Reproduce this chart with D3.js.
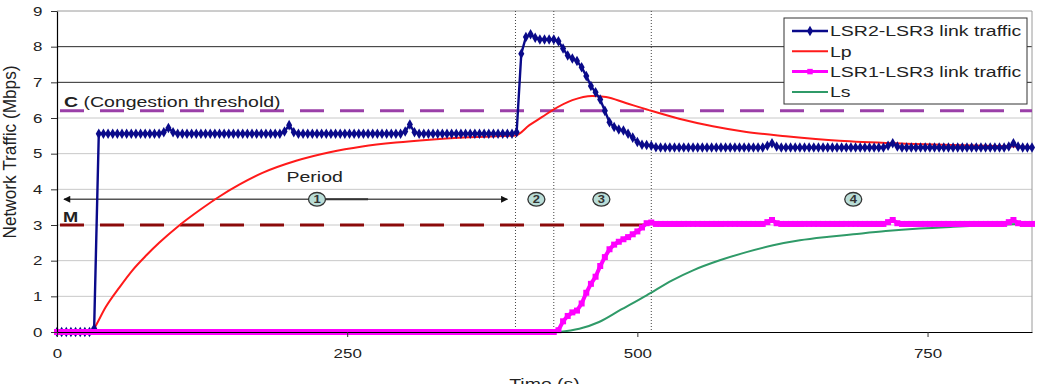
<!DOCTYPE html>
<html>

<head>
  <meta charset="utf-8">
  <title>Network traffic</title>
  <script src="https://cdn.jsdelivr.net/npm/d3@7"></script>
  <style>
    body { margin: 0; background: #fff; }
    text { font-family: Arial, "Liberation Sans", sans-serif; }
  </style>
</head>

<body>
  <svg width="1044" height="384" id="mainsvg" style="display: block;"></svg>
  <script>
    // sampled every 4 s, 0 .. 840 s
    const time = d3.range(0, 841, 4);

    const lsr23 = [
      0, 0, 0, 0, 0, 0, 0, 0, 0.1, 5.56,
      5.56, 5.56, 5.56, 5.56, 5.56, 5.56, 5.56, 5.56, 5.56, 5.56,
      5.56, 5.56, 5.56, 5.6, 5.72, 5.6, 5.56, 5.56, 5.56, 5.56,
      5.56, 5.56, 5.56, 5.56, 5.56, 5.56, 5.56, 5.56, 5.56, 5.56,
      5.56, 5.56, 5.56, 5.56, 5.56, 5.56, 5.56, 5.56, 5.56, 5.62,
      5.8, 5.6, 5.56, 5.56, 5.56, 5.56, 5.56, 5.56, 5.56, 5.56,
      5.56, 5.56, 5.56, 5.56, 5.56, 5.56, 5.56, 5.56, 5.56, 5.56,
      5.56, 5.56, 5.56, 5.56, 5.56, 5.62, 5.82, 5.6, 5.56, 5.56,
      5.56, 5.56, 5.56, 5.56, 5.56, 5.56, 5.56, 5.56, 5.56, 5.56,
      5.56, 5.56, 5.56, 5.56, 5.56, 5.56, 5.56, 5.56, 5.56, 5.6,
      7.8, 8.27, 8.35, 8.25, 8.2, 8.2, 8.2, 8.2, 8.15, 7.95,
      7.75, 7.67, 7.6, 7.42, 7.18, 6.9, 6.72, 6.52, 6.2, 5.88,
      5.75, 5.68, 5.65, 5.56, 5.45, 5.33, 5.25, 5.24, 5.22, 5.18,
      5.17, 5.17, 5.17, 5.17, 5.17, 5.17, 5.17, 5.17, 5.17, 5.17,
      5.17, 5.17, 5.17, 5.17, 5.17, 5.17, 5.17, 5.17, 5.17, 5.17,
      5.17, 5.17, 5.17, 5.22, 5.29, 5.2, 5.17, 5.17, 5.17, 5.17,
      5.17, 5.17, 5.17, 5.17, 5.17, 5.17, 5.17, 5.17, 5.17, 5.17,
      5.17, 5.17, 5.17, 5.17, 5.17, 5.17, 5.17, 5.17, 5.17, 5.22,
      5.29, 5.2, 5.17, 5.17, 5.17, 5.17, 5.17, 5.17, 5.17, 5.17,
      5.17, 5.17, 5.17, 5.17, 5.17, 5.17, 5.17, 5.17, 5.17, 5.17,
      5.17, 5.17, 5.17, 5.17, 5.17, 5.2, 5.29, 5.2, 5.17, 5.17,
      5.17
    ];

    const lsr13 = [
      0, 0, 0, 0, 0, 0, 0, 0, 0, 0,
      0, 0, 0, 0, 0, 0, 0, 0, 0, 0,
      0, 0, 0, 0, 0, 0, 0, 0, 0, 0,
      0, 0, 0, 0, 0, 0, 0, 0, 0, 0,
      0, 0, 0, 0, 0, 0, 0, 0, 0, 0,
      0, 0, 0, 0, 0, 0, 0, 0, 0, 0,
      0, 0, 0, 0, 0, 0, 0, 0, 0, 0,
      0, 0, 0, 0, 0, 0, 0, 0, 0, 0,
      0, 0, 0, 0, 0, 0, 0, 0, 0, 0,
      0, 0, 0, 0, 0, 0, 0, 0, 0, 0,
      0, 0, 0, 0, 0, 0, 0, 0, 0.05, 0.3,
      0.45, 0.55, 0.6, 0.8, 1.1, 1.35, 1.55, 1.85, 2.1, 2.32,
      2.45, 2.53, 2.6, 2.66, 2.74, 2.82, 2.93, 3.05, 3.07, 3.03,
      3.03, 3.03, 3.03, 3.03, 3.03, 3.03, 3.03, 3.03, 3.03, 3.03,
      3.03, 3.03, 3.03, 3.03, 3.03, 3.03, 3.03, 3.03, 3.03, 3.03,
      3.03, 3.03, 3.03, 3.08, 3.14, 3.05, 3.03, 3.03, 3.03, 3.03,
      3.03, 3.03, 3.03, 3.03, 3.03, 3.03, 3.03, 3.03, 3.03, 3.03,
      3.03, 3.03, 3.03, 3.03, 3.03, 3.03, 3.03, 3.03, 3.03, 3.08,
      3.14, 3.05, 3.03, 3.03, 3.03, 3.03, 3.03, 3.03, 3.03, 3.03,
      3.03, 3.03, 3.03, 3.03, 3.03, 3.03, 3.03, 3.03, 3.03, 3.03,
      3.03, 3.03, 3.03, 3.03, 3.03, 3.08, 3.14, 3.05, 3.03, 3.03,
      3.03
    ];

    const lpTime = [0, 30, 32, 42, 54, 65, 77, 88, 105, 123, 140, 157, 177, 206, 235, 263, 292, 321, 350, 378,
      395, 407, 418, 427, 444, 461, 473, 490, 510, 536, 565, 594, 628, 674, 731, 789, 840];
    const lpValue = [0, 0, 0.1, 0.7, 1.26, 1.73, 2.15, 2.5, 2.98, 3.42, 3.8, 4.13, 4.46, 4.8, 5.04, 5.2, 5.31, 5.39, 5.45, 5.49,
      5.51, 5.8, 6.03, 6.22, 6.5, 6.62, 6.59, 6.42, 6.22, 5.98, 5.77, 5.61, 5.49, 5.36, 5.28, 5.23, 5.19];

    const lsTime = [432, 450, 467, 485, 508, 530, 548, 571, 594, 617, 640, 665, 686, 714, 743, 772, 800, 830];
    const lsValue = [0, 0.09, 0.28, 0.61, 1.03, 1.45, 1.73, 2.01, 2.24, 2.43, 2.57, 2.67, 2.74, 2.83, 2.9, 2.95, 2.99, 3.03];

    const seriesNames = ['LSR2-LSR3 link traffic', 'Lp', 'LSR1-LSR3 link traffic', 'Ls'];
    const xTicks = [0, 250, 500, 750];
    const yTicks = [0, 1, 2, 3, 4, 5, 6, 7, 8, 9];
    const periodBounds = [395, 428, 512];
    const periodLabels = ['1', '2', '3', '4'];
    const congestion = 6.2;
    const minLevel = 3;

    const svg = d3.select('#mainsvg');
    const width = +svg.attr('width');
    const height = +svg.attr('height');
    const margin = { top: 11, right: 12, bottom: 52, left: 57 };
    const innerWidth = width - margin.left - margin.right;
    const innerHeight = height - margin.top - margin.bottom;
    const SX = 1.3; // the picture is stretched sideways, so is its text

    const g = svg.append('g')
      .attr('transform', `translate(${margin.left}, ${margin.top})`);

    const x = d3.scaleLinear().domain([0, 840]).range([0, innerWidth]);
    const y = d3.scaleLinear().domain([0, 9]).range([innerHeight, 0]);

    // grid
    g.selectAll('.grid').data(yTicks.filter(d => d > 0)).join('line')
      .attr('x1', 0).attr('x2', innerWidth)
      .attr('y1', d => y(d)).attr('y2', d => y(d))
      .attr('stroke', d => (d === 7 || d === 8) ? '#2a2a2a' : (d === 9 ? '#9a9a9a' : '#c8c8c8'))
      .attr('stroke-width', 1);
    g.append('line')
      .attr('x1', innerWidth).attr('x2', innerWidth)
      .attr('y1', 0).attr('y2', innerHeight)
      .attr('stroke', '#9a9a9a');

    // period boundaries
    g.selectAll('.bound').data(periodBounds).join('line')
      .attr('x1', d => x(d)).attr('x2', d => x(d))
      .attr('y1', 0).attr('y2', innerHeight)
      .attr('stroke', '#444')
      .attr('stroke-width', 1)
      .attr('stroke-dasharray', '1,2');

    // C and M thresholds
    g.append('line')
      .attr('x1', 0).attr('x2', innerWidth)
      .attr('y1', y(congestion)).attr('y2', y(congestion))
      .attr('stroke', '#9a3fa8').attr('stroke-width', 3)
      .attr('stroke-dasharray', '24,16').attr('stroke-dashoffset', -3);
    g.append('line')
      .attr('x1', 0).attr('x2', innerWidth)
      .attr('y1', y(minLevel)).attr('y2', y(minLevel))
      .attr('stroke', '#8b0a0a').attr('stroke-width', 3)
      .attr('stroke-dasharray', '24,16').attr('stroke-dashoffset', -3);

    const cLabel = g.append('text')
      .attr('transform', `translate(7, ${y(congestion) - 4}) scale(${SX},1)`)
      .attr('font-size', 15).attr('fill', '#222');
    cLabel.append('tspan').attr('font-weight', 'bold').text('C');
    cLabel.append('tspan').text(' (Congestion threshold)');

    g.append('text')
      .attr('transform', `translate(6, ${y(minLevel) - 3}) scale(${SX},1)`)
      .attr('font-size', 14).attr('font-weight', 'bold').attr('fill', '#222')
      .text('M');

    // period arrow
    const defs = svg.append('defs');
    defs.append('marker').attr('id', 'arrow')
      .attr('viewBox', '0 0 10 10').attr('refX', 9).attr('refY', 5)
      .attr('markerWidth', 10).attr('markerHeight', 7)
      .attr('markerUnits', 'userSpaceOnUse')
      .attr('orient', 'auto-start-reverse')
      .append('path').attr('d', 'M0,0 L10,5 L0,10 z').attr('fill', '#111');

    const arrowY = y(3.72);
    g.append('line')
      .attr('x1', x(6)).attr('x2', x(388))
      .attr('y1', arrowY).attr('y2', arrowY)
      .attr('stroke', '#555').attr('stroke-width', 1.5)
      .attr('marker-start', 'url(#arrow)')
      .attr('marker-end', 'url(#arrow)');
    g.append('line')
      .attr('x1', x(224)).attr('x2', x(268))
      .attr('y1', arrowY).attr('y2', arrowY)
      .attr('stroke', '#333').attr('stroke-width', 2);

    g.append('text')
      .attr('transform', `translate(${x(222)}, ${y(4.2)}) scale(${SX},1)`)
      .attr('text-anchor', 'middle').attr('font-size', 15).attr('fill', '#222')
      .text('Period');

    const periodAt = [224, 413, 469, 686];
    const badges = g.selectAll('.badge').data(periodLabels).join('g')
      .attr('transform', (d, i) => `translate(${x(periodAt[i])}, ${arrowY})`);
    badges.append('ellipse')
      .attr('rx', 8.5).attr('ry', 6.8)
      .attr('fill', '#b9ddd7').attr('stroke', '#333').attr('stroke-width', 1.3);
    badges.append('text')
      .attr('transform', `scale(${SX},1)`)
      .attr('text-anchor', 'middle').attr('dy', '0.36em')
      .attr('font-size', 10).attr('font-weight', 'bold').attr('fill', '#333')
      .text(d => d);

    // series
    const lineT = d3.line().x(d => x(d[0])).y(d => y(d[1]));
    const smooth = d3.line().x(d => x(d[0])).y(d => y(d[1])).curve(d3.curveMonotoneX);

    const lp = lpTime.map((t, i) => [t, lpValue[i]]);
    const ls = lsTime.map((t, i) => [t, lsValue[i]]);
    const blue = time.map((t, i) => [t, lsr23[i]]);
    const pink = time.map((t, i) => [t, lsr13[i]]);

    g.append('path').datum(lp)
      .attr('fill', 'none').attr('stroke', '#ff1a1a').attr('stroke-width', 2)
      .attr('d', smooth);
    g.append('path').datum(ls)
      .attr('fill', 'none').attr('stroke', '#2f9a68').attr('stroke-width', 2)
      .attr('d', smooth);

    g.append('path').datum(blue)
      .attr('fill', 'none').attr('stroke', '#0a0a8a').attr('stroke-width', 2.4)
      .attr('d', lineT);
    g.selectAll('.bm').data(blue).join('path')
      .attr('transform', d => `translate(${x(d[0])}, ${y(d[1])})`)
      .attr('d', d3.symbol(d3.symbolDiamond, 32))
      .attr('fill', '#0a0a8a');

    g.append('path').datum(pink)
      .attr('fill', 'none').attr('stroke', '#ff00ff').attr('stroke-width', 4)
      .attr('d', lineT);
    g.selectAll('.pm').data(pink).join('path')
      .attr('transform', d => `translate(${x(d[0])}, ${y(d[1])})`)
      .attr('d', d3.symbol(d3.symbolSquare, 36))
      .attr('fill', '#ff00ff');

    // axes
    const yAxis = g.append('g')
      .call(d3.axisLeft(y).tickValues(yTicks).tickSize(6).tickSizeOuter(0));
    yAxis.select('.domain').attr('stroke', '#000').attr('stroke-width', 1.2);
    yAxis.selectAll('.tick line').attr('stroke', '#333');
    yAxis.selectAll('text')
      .attr('x', -11.2).attr('transform', `scale(${SX},1)`)
      .attr('font-size', 13).attr('fill', '#222');

    const xAxis = g.append('g')
      .attr('transform', `translate(0, ${innerHeight})`)
      .call(d3.axisBottom(x).tickValues(xTicks).tickSize(5).tickSizeOuter(0));
    xAxis.select('.domain').attr('stroke', '#000').attr('stroke-width', 1.2);
    xAxis.selectAll('.tick line').attr('stroke', '#333');
    xAxis.selectAll('text')
      .attr('y', 17).attr('transform', `scale(${SX},1)`)
      .attr('font-size', 13).attr('fill', '#222');

    svg.append('text')
      .attr('transform', `translate(${margin.left + innerWidth / 2}, 389) scale(${SX},1)`)
      .attr('text-anchor', 'middle').attr('font-size', 15).attr('fill', '#222')
      .text('Time (s)');

    svg.append('text')
      .attr('transform', `translate(16, 152) rotate(-90) scale(1.15,1.25)`)
      .attr('text-anchor', 'middle').attr('font-size', 15).attr('fill', '#222')
      .text('Network Traffic (Mbps)');

    // legend
    const legendStyle = [
      { color: '#0a0a8a', width: 2.4, sym: d3.symbolDiamond, size: 32 },
      { color: '#ff1a1a', width: 2, sym: null },
      { color: '#ff00ff', width: 3, sym: d3.symbolSquare, size: 30 },
      { color: '#2f9a68', width: 2, sym: null }
    ];
    const legend = svg.append('g').attr('transform', 'translate(784, 18)');
    legend.append('rect')
      .attr('width', 243).attr('height', 86)
      .attr('fill', '#fff').attr('stroke', '#333').attr('stroke-width', 1);
    const items = legend.selectAll('.item').data(seriesNames).join('g')
      .attr('transform', (d, i) => `translate(0, ${13 + i * 20.3})`);
    items.append('line')
      .attr('x1', 8).attr('x2', 44)
      .attr('stroke', (d, i) => legendStyle[i].color)
      .attr('stroke-width', (d, i) => legendStyle[i].width);
    items.filter((d, i) => legendStyle[i].sym)
      .append('path')
      .attr('transform', 'translate(26, 0)')
      .attr('d', (d) => {
        const s = legendStyle[seriesNames.indexOf(d)];
        return d3.symbol(s.sym, s.size)();
      })
      .attr('fill', d => legendStyle[seriesNames.indexOf(d)].color);
    items.append('text')
      .attr('transform', `translate(46, 0) scale(${SX},1)`)
      .attr('dy', '0.35em').attr('font-size', 15).attr('fill', '#222')
      .text(d => d);
  </script>
</body>

</html>
